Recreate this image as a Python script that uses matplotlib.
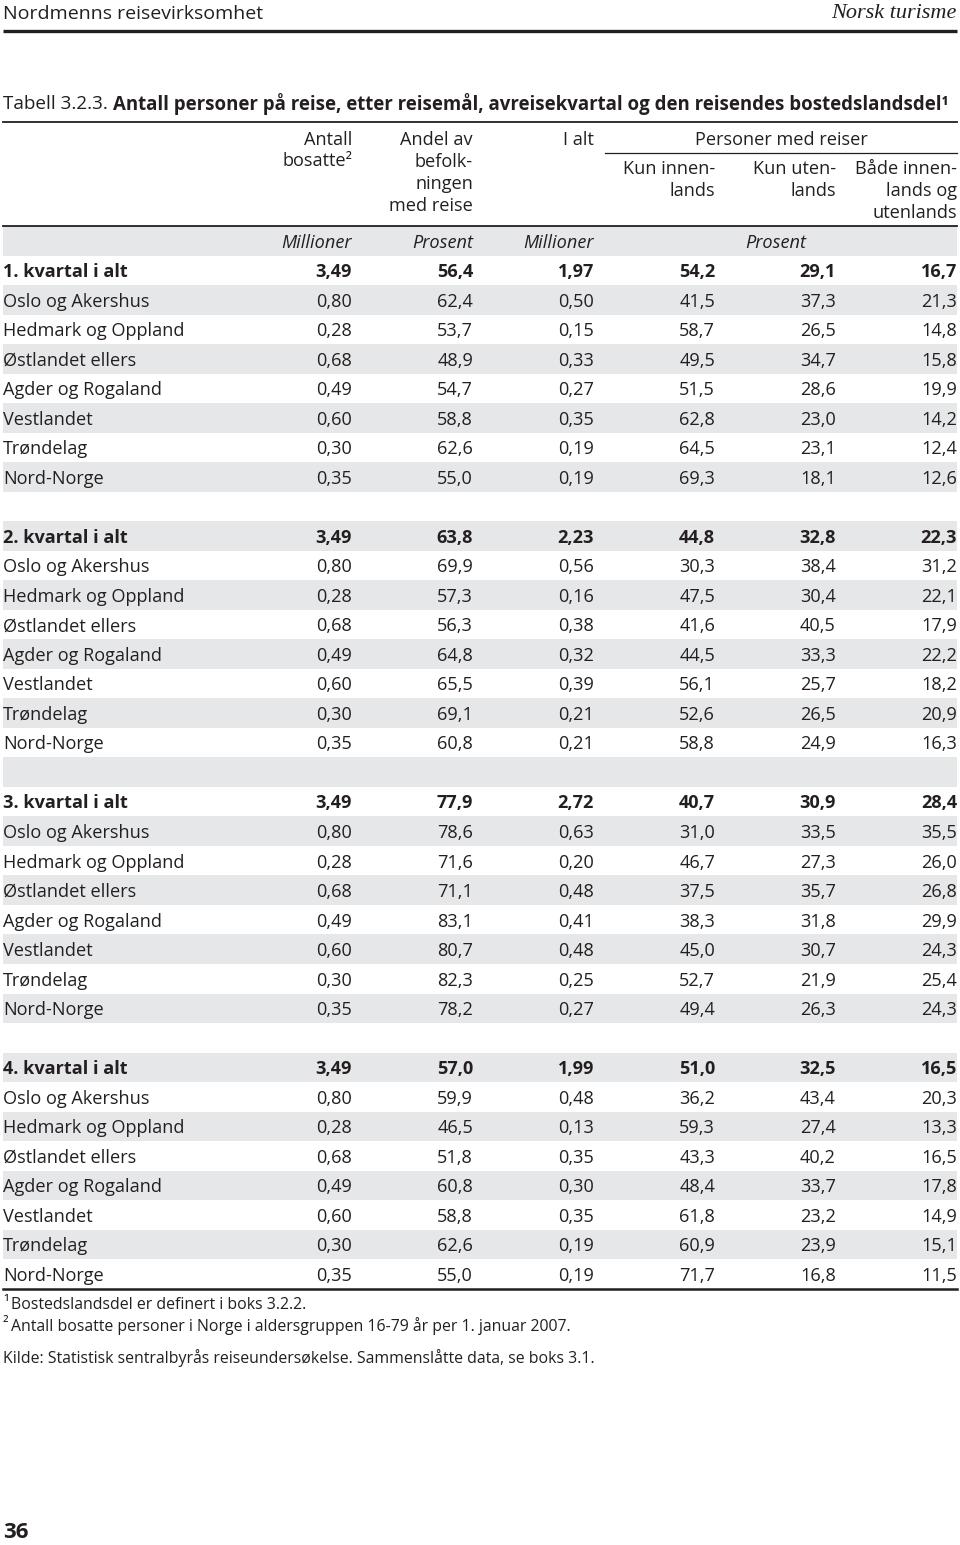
import matplotlib.pyplot as plt

plt.rcParams['font.family'] = ['Open Sans', 'DejaVu Sans']

# data
regions = ['Oslo og Akershus', 'Hedmark og Oppland', 'Østlandet ellers',
           'Agder og Rogaland', 'Vestlandet', 'Trøndelag', 'Nord-Norge']
quarters = ['1. kvartal i alt', '2. kvartal i alt', '3. kvartal i alt', '4. kvartal i alt']

# columns: bosatte, andel, i alt, kun innen, kun uten, begge
q1 = [[3.49, 56.4, 1.97, 54.2, 29.1, 16.7],
      [0.80, 62.4, 0.50, 41.5, 37.3, 21.3],
      [0.28, 53.7, 0.15, 58.7, 26.5, 14.8],
      [0.68, 48.9, 0.33, 49.5, 34.7, 15.8],
      [0.49, 54.7, 0.27, 51.5, 28.6, 19.9],
      [0.60, 58.8, 0.35, 62.8, 23.0, 14.2],
      [0.30, 62.6, 0.19, 64.5, 23.1, 12.4],
      [0.35, 55.0, 0.19, 69.3, 18.1, 12.6]]
q2 = [[3.49, 63.8, 2.23, 44.8, 32.8, 22.3],
      [0.80, 69.9, 0.56, 30.3, 38.4, 31.2],
      [0.28, 57.3, 0.16, 47.5, 30.4, 22.1],
      [0.68, 56.3, 0.38, 41.6, 40.5, 17.9],
      [0.49, 64.8, 0.32, 44.5, 33.3, 22.2],
      [0.60, 65.5, 0.39, 56.1, 25.7, 18.2],
      [0.30, 69.1, 0.21, 52.6, 26.5, 20.9],
      [0.35, 60.8, 0.21, 58.8, 24.9, 16.3]]
q3 = [[3.49, 77.9, 2.72, 40.7, 30.9, 28.4],
      [0.80, 78.6, 0.63, 31.0, 33.5, 35.5],
      [0.28, 71.6, 0.20, 46.7, 27.3, 26.0],
      [0.68, 71.1, 0.48, 37.5, 35.7, 26.8],
      [0.49, 83.1, 0.41, 38.3, 31.8, 29.9],
      [0.60, 80.7, 0.48, 45.0, 30.7, 24.3],
      [0.30, 82.3, 0.25, 52.7, 21.9, 25.4],
      [0.35, 78.2, 0.27, 49.4, 26.3, 24.3]]
q4 = [[3.49, 57.0, 1.99, 51.0, 32.5, 16.5],
      [0.80, 59.9, 0.48, 36.2, 43.4, 20.3],
      [0.28, 46.5, 0.13, 59.3, 27.4, 13.3],
      [0.68, 51.8, 0.35, 43.3, 40.2, 16.5],
      [0.49, 60.8, 0.30, 48.4, 33.7, 17.8],
      [0.60, 58.8, 0.35, 61.8, 23.2, 14.9],
      [0.30, 62.6, 0.19, 60.9, 23.9, 15.1],
      [0.35, 55.0, 0.19, 71.7, 16.8, 11.5]]
decimals = [2, 1, 2, 1, 1, 1]

units = ['Millioner', 'Prosent', 'Millioner']

# layout (pixels)
col_right = [352, 473, 594, 715, 836, 957]
row0 = 241
pitch = 29.51
dy = 1.8  # text nudge
ink = '#231f20'
shade = '#e6e7e8'
fs = 13.1

fig = plt.figure(figsize=(9.6, 15.45), dpi=100)
ax = fig.add_axes([0, 0, 1, 1])
ax.set_xlim(0, 960)
ax.set_ylim(1545, 0)
ax.axis('off')


def fmt(v, d):
    return f'{v:.{d}f}'.replace('.', ',')


# page header
ax.text(3, 14, 'Nordmenns reisevirksomhet', fontsize=14, color=ink, va='center', ha='left')
ax.text(957, 14, 'Norsk turisme', fontsize=16, color=ink, va='center', ha='right',
        style='italic', family=['Liberation Serif', 'DejaVu Serif'])
ax.plot([3, 957], [31, 31], color=ink, lw=2.4, solid_capstyle='butt')

# table title
ax.text(3, 104, 'Tabell 3.2.3.', fontsize=13.6, color=ink, va='center', ha='left')
ax.text(113, 104, 'Antall personer på reise, etter reisemål, avreisekvartal og den reisendes bostedslandsdel¹',
        fontsize=13.4, color=ink, va='center', ha='left', weight='bold')
ax.plot([3, 957], [122, 122], color=ink, lw=1.3)

# column headers
hdr = dict(fontsize=fs, color=ink, va='center')
ax.text(352, 140, 'Antall', ha='right', **hdr)
ax.text(352, 161, 'bosatte²', ha='right', **hdr)
for i, s in enumerate(['Andel av', 'befolk-', 'ningen', 'med reise']):
    ax.text(473, 140 + i * 22, s, ha='right', **hdr)
ax.text(594, 140, 'I alt', ha='right', **hdr)
ax.text(781, 140, 'Personer med reiser', ha='center', **hdr)
ax.plot([605, 957], [153, 153], color=ink, lw=0.9)
for i, s in enumerate(['Kun innen-', 'lands']):
    ax.text(715, 169 + i * 22, s, ha='right', **hdr)
for i, s in enumerate(['Kun uten-', 'lands']):
    ax.text(836, 169 + i * 22, s, ha='right', **hdr)
for i, s in enumerate(['Både innen-', 'lands og', 'utenlands']):
    ax.text(957, 169 + i * 22, s, ha='right', **hdr)

# row shading
n_rows = 36
for r in range(0, n_rows, 2):
    yc = row0 + r * pitch
    ax.axhspan(yc - pitch / 2, yc + pitch / 2, xmin=3 / 960, xmax=957 / 960,
               color=shade, lw=0, zorder=0)
ax.plot([3, 957], [row0 - pitch / 2, row0 - pitch / 2], color=ink, lw=1.3)

# units row
for x, u in zip(col_right, units):
    ax.text(x, row0 + dy, u, ha='right', style='italic', **hdr)
ax.text(776, row0 + dy, 'Prosent', ha='center', style='italic', **hdr)

# body
r = 1
for qname, qdata in zip(quarters, [q1, q2, q3, q4]):
    labels = [qname] + regions
    for k, (lab, vals) in enumerate(zip(labels, qdata)):
        yc = row0 + r * pitch + dy
        w = 'bold' if k == 0 else 'normal'
        ax.text(3, yc, lab, ha='left', weight=w, **hdr)
        for x, v, d in zip(col_right, vals, decimals):
            ax.text(x, yc, fmt(v, d), ha='right', weight=w, **hdr)
        r += 1
    r += 1

ybot = row0 + 35 * pitch + pitch / 2
ax.plot([3, 957], [ybot, ybot], color=ink, lw=1.8)

# footnotes
fn = dict(fontsize=11.4, color=ink, va='center', ha='left')
ax.text(3, 1304, '¹', **fn)
ax.text(11, 1305, 'Bostedslandsdel er definert i boks 3.2.2.', **fn)
ax.text(3, 1325, '²', **fn)
ax.text(11, 1326, 'Antall bosatte personer i Norge i aldersgruppen 16-79 år per 1. januar 2007.', **fn)
ax.text(3, 1358, 'Kilde: Statistisk sentralbyrås reiseundersøkelse. Sammenslåtte data, se boks 3.1.', **fn)

ax.text(3, 1532, '36', fontsize=16, color=ink, va='center', ha='left', weight='bold')

plt.savefig('out.png', dpi=100)
